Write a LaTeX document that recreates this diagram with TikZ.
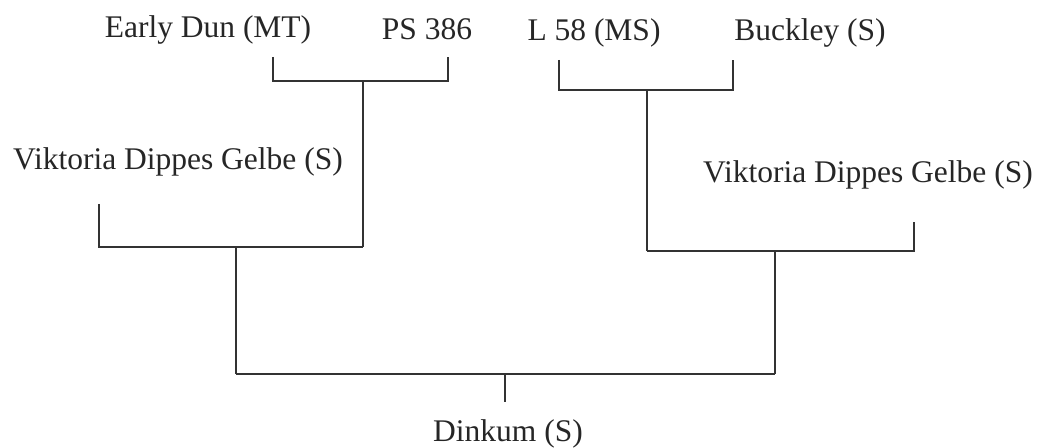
\documentclass[tikz,border=0pt]{standalone}
\usepackage{fontspec}
\setmainfont{Liberation Serif}
\begin{document}
\begin{tikzpicture}[x=0.5pt,y=-0.5pt,
  lbl/.style={inner sep=0pt, anchor=base, font=\fontsize{15.75}{18}\selectfont, text=black!85},
  ln/.style={line width=0.9pt, draw=black!80}]
\useasboundingbox (0,0) rectangle (1045,448);
% labels
\node[lbl] (ed)  at (208,38) {Early Dun (MT)};
\node[lbl] (ps)  at (427,40) {PS 386};
\node[lbl] (l58) at (594,41) {L 58 (MS)};
\node[lbl] (bk)  at (810,41) {Buckley (S)};
\node[lbl] (vl)  at (178,170) {Viktoria Dippes Gelbe (S)};
\node[lbl] (vr)  at (868,183) {Viktoria Dippes Gelbe (S)};
\node[lbl] (dk)  at (508,442) {Dinkum (S)};
% bracket end points
\coordinate (edE) at (273,57);
\coordinate (psE) at (448,57);
\coordinate (j1)  at (363,81);
\coordinate (l58E) at (559,60);
\coordinate (bkE) at (733,60);
\coordinate (j2)  at (647,90);
\coordinate (vlE) at (99,204);
\coordinate (j3)  at (236,247);
\coordinate (vrE) at (914,222);
\coordinate (j4)  at (775,251);
\coordinate (j5)  at (505,374);
\coordinate (dkE) at (505,402);
% brackets
\draw[ln] (edE) -- (edE |- j1) -- (psE |- j1) -- (psE);
\draw[ln] (j1) -- (j1 |- j3);
\draw[ln] (l58E) -- (l58E |- j2) -- (bkE |- j2) -- (bkE);
\draw[ln] (j2) -- (j2 |- j4);
\draw[ln] (vlE) -- (vlE |- j3) -- (j1 |- j3);
\draw[ln] (j3) -- (j3 |- j5);
\draw[ln] (j2 |- j4) -- (vrE |- j4) -- (vrE);
\draw[ln] (j4) -- (j4 |- j5);
\draw[ln] (j3 |- j5) -- (j4 |- j5);
\draw[ln] (j5) -- (dkE);
\end{tikzpicture}
\end{document}
